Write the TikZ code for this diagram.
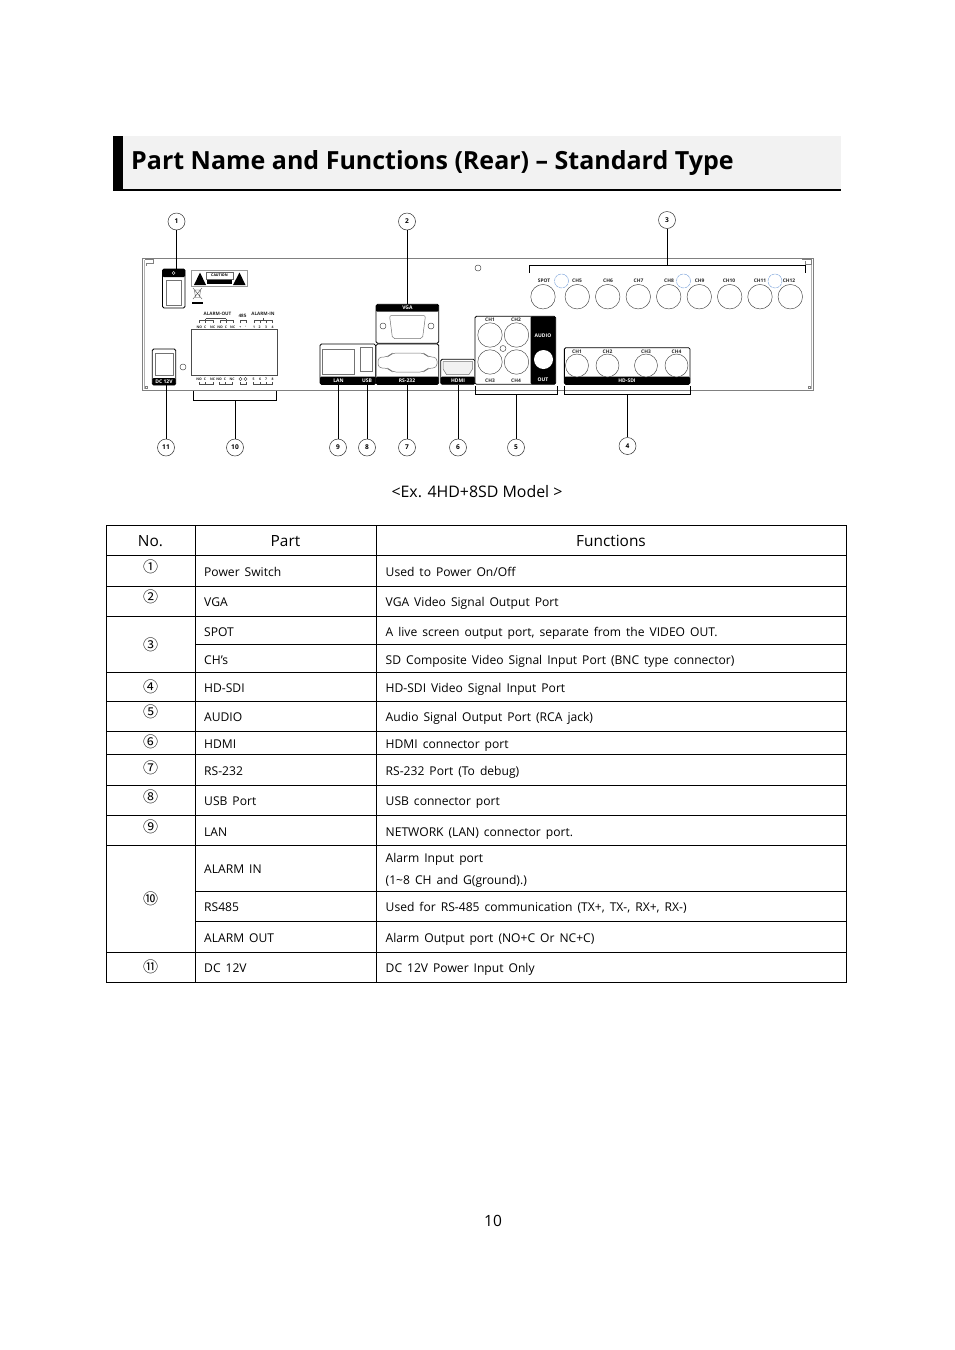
\documentclass[tikz,border=0pt]{standalone}
\usepackage{fontspec}
\setmainfont{Open Sans}
\newfontfamily\circfont{Noto Sans CJK KR}
\newcommand{\fs}[1]{\fontsize{#1}{#1}\selectfont}
\newcommand{\wsp}{\spaceskip=5pt\relax}
\tikzset{
  x=1pt,y=-1pt,
  callout/.style={circle,draw=black!80,line width=.5pt,minimum size=17pt,inner sep=0pt,fill=white,font=\fs{6.6}\bfseries},
  lead/.style={draw=black,line width=1pt},
  bracketline/.style={draw=black,line width=1pt},
  tiny/.style={inner sep=0pt,font=\fs{4.9}\bfseries,text=black!85},
  whitelabel/.style={inner sep=0pt,font=\fs{5}\bfseries,text=white},
  port/.style={circle,draw=black!75,line width=.45pt,fill=white,inner sep=0pt},
  bnc/.style={port,minimum size=24.5pt},
  hdbnc/.style={port,minimum width=23pt,minimum height=21pt},
  hole/.style={port,minimum size=6pt},
  blue/.style={circle,draw=cyan!50!blue!55,line width=.45pt,dashed,dash pattern=on 3pt off .8pt,minimum size=14pt,inner sep=0pt},
  block/.style={draw=black,line width=.8pt,rounded corners=1.5pt,inner sep=0pt,fill=white},
  strip/.style={fill=black,rounded corners=1.2pt},
  inner/.style={draw=black!55,line width=.5pt,fill=white},
  tbl/.style={draw=black,line width=.7pt},
  head/.style={inner sep=0pt,font=\fs{15.4},text=black},
  cell/.style={inner sep=0pt,anchor=base west,font=\fs{12.1},text=black},
  num/.style={inner sep=0pt,font=\circfont\fs{15},text=black},
  thinbr/.style={draw=black!70,line width=.35pt},
}
\begin{document}
\begin{tikzpicture}
\useasboundingbox (0,0) rectangle (954,1350);
\fill[white] (0,0) rectangle (954,1350);
% title
\fill[black!5] (113,136) rectangle (841,190);
\fill[black] (113,136) rectangle (123,190);
\draw[black,line width=1.4pt] (113,190) -- (841,190);
\node[inner sep=0pt,anchor=west,font=\fs{25}\bfseries] (title) at (131,163.5) {Part Name and Functions (Rear) – Standard Type};

% panel
\draw[black!50,line width=.6pt] (142.7,258.5) rectangle (813,390.5);
\draw[black!30,line width=.6pt] (144.5,260) -- (144.5,389);
\draw[black!30,line width=.6pt] (811,260) -- (811,389);
\draw[black!50,line width=.4pt] (145,259) -- (153,259) -- (153,263) -- (146,263) -- (146,266);
\draw[black!50,line width=.4pt] (802,259) -- (811,259) -- (811,264) -- (805,264) -- (805,261);
\draw[black!50,line width=.4pt] (145,386) rectangle (147.5,388.5);
\draw[black!50,line width=.4pt] (808,386) rectangle (810.5,388.5);

% power switch
\node[block,minimum width=22.5pt,minimum height=39pt] (sw) at (173.7,288.5) {};
\fill[strip] (162.5,269) rectangle (185,277);
\node[inner,minimum width=15.5pt,minimum height=25pt,inner sep=0pt] (swi) at (173.7,292.5) {};
\node[inner sep=0pt,circle,draw=white,line width=.4pt,minimum size=3pt] (swicon) at (173.7,273) {};

% caution label
\node[draw=black!40,line width=.5pt,minimum width=55.5pt,minimum height=15.5pt,inner sep=0pt] (caution) at (219,278) {};
\fill[black] (194,285) -- (200,272.5) -- (206,285) -- cycle;
\fill[black] (233,285) -- (239.5,272.5) -- (245.5,285) -- cycle;
\fill[black] (207,279) rectangle (232,284);
\node[inner sep=0pt,font=\fs{3.6}\bfseries] (cautiontxt) at (219.5,275.5) {CAUTION};
\draw[black!60,line width=.4pt] (206,272) rectangle (233,279);
% weee mark
\draw[black!70,line width=.4pt] (193,288) -- (202,299) (202,288) -- (193,299) (194.5,290) -- (200.5,290) -- (199.5,297.5) -- (195.5,297.5) -- cycle;
\fill[black] (192,302) rectangle (203,304);

% terminal block
\node[draw=black!70,line width=.6pt,fill=white,minimum width=85.5pt,minimum height=46pt,inner sep=0pt] (term) at (234.5,352) {};
\node[tiny,font=\fs{4.6}\bfseries] (aout) at (217.5,314) {ALARM-OUT};
\node[tiny,font=\fs{4.6}\bfseries] (r485) at (242.5,316) {485};
\node[tiny,font=\fs{4.6}\bfseries] (ain) at (263,314) {ALARM-IN};
\foreach \i/\x/\t in {1/199.3/NO,2/205.3/C,3/212.7/NC,4/220/NO,5/226/C,6/232.7/NC,7/240.3/+,8/245.7/-,9/254/1,10/259.7/2,11/266/3,12/272.7/4}
  \node[tiny,font=\fs{3.4}\bfseries] (tt\i) at (\x,327) {\t};
\foreach \i/\x/\t in {1/199/NO,2/205/C,3/212.5/NC,4/219/NO,5/225/C,6/232/NC,9/253.5/5,10/260/6,11/266/7,12/272.5/8}
  \node[tiny,font=\fs{3.4}\bfseries] (tb\i) at (\x,379) {\t};
\node[circle,draw=black!80,line width=.35pt,minimum size=3.2pt,inner sep=0pt] (gA) at (240.5,379) {};
\node[circle,draw=black!80,line width=.35pt,minimum size=3.2pt,inner sep=0pt] (gB) at (245.5,379) {};
\draw[thinbr] (199,323) -- (199,320.5) -- (213,320.5) -- (213,323) (205.5,323) -- (205.5,318.5);
\draw[thinbr] (220,323) -- (220,320.5) -- (233,320.5) -- (233,323) (226,323) -- (226,318.5);
\draw[thinbr] (205.5,318.5) -- (226,318.5);
\draw[thinbr] (240,323) -- (240,320.5) -- (246,320.5) -- (246,323);
\draw[thinbr] (254,323) -- (254,320.5) -- (272.5,320.5) -- (272.5,323) (260,323) -- (260,320.5) (266,323) -- (266,320.5) (263,320.5) -- (263,318);
\draw[thinbr] (199,382) -- (199,384.5) -- (213,384.5) -- (213,382) (205.5,382) -- (205.5,384.5);
\draw[thinbr] (219,382) -- (219,384.5) -- (232.5,384.5) -- (232.5,382) (225.5,382) -- (225.5,384.5);
\draw[thinbr] (240,382) -- (240,384.5) -- (246,384.5) -- (246,382);
\draw[thinbr] (253.5,382) -- (253.5,384.5) -- (272.5,384.5) -- (272.5,382) (260,382) -- (260,384.5) (266,382) -- (266,384.5);

% DC 12V
\node[block,minimum width=23.5pt,minimum height=36pt] (dc) at (164,367) {};
\fill[strip] (152.3,378) rectangle (175.7,385);
\node[inner,minimum width=18pt,minimum height=22pt,inner sep=0pt] (dci) at (164,364) {};
\node[whitelabel] (dclabel) at (164,381.6) {DC 12V};
\node[hole] (dchole) at (183,367) {};
\node[hole] (tophole) at (478,268) {};

% LAN / USB
\node[block,minimum width=55.7pt,minimum height=40.3pt] (lan) at (347.8,364.2) {};
\fill[strip] (320,376.7) rectangle (375.7,384.4);
\node[inner,minimum width=32pt,minimum height=25pt,inner sep=0pt] (lani) at (338,361.5) {};
\node[inner,minimum width=11.5pt,minimum height=24pt,inner sep=0pt] (usbi) at (366.3,359) {};
\node[whitelabel] (lanl) at (338.5,380.6) {LAN};
\node[whitelabel] (usbl) at (367,380.6) {USB};

% VGA
\node[block,minimum width=62.7pt,minimum height=39pt] (vga) at (407.4,323.8) {};
\fill[strip] (376,304.3) rectangle (438.7,311.7);
\node[whitelabel] (vgal) at (407.4,308) {VGA};
\draw[draw=black!55,line width=.5pt,rounded corners=2pt] (389.5,315.5) -- (425.5,315.5) -- (422.5,338.5) -- (392.5,338.5) -- cycle;
\node[hole] (vh1) at (383,326) {};
\node[hole] (vh2) at (431,326) {};

% RS-232
\node[block,minimum width=62.7pt,minimum height=40.3pt] (rs) at (407.4,364.2) {};
\fill[strip] (376,376.7) rectangle (438.7,384.4);
\node[whitelabel] (rsl) at (407,380.6) {RS-232};
\draw[draw=black!55,line width=.5pt,rounded corners=4pt] (378,357) -- (388,357) -- (392,353) -- (424,353) -- (428,357) -- (437,357) -- (437,368) -- (428,368) -- (424,372) -- (392,372) -- (388,368) -- (378,368) -- cycle;

% HDMI
\node[block,minimum width=34.3pt,minimum height=25pt] (hdmi) at (457.8,371.8) {};
\fill[strip] (440.7,376.7) rectangle (475,384.4);
\node[whitelabel] (hdmil) at (458,380.6) {HDMI};
\draw[draw=black!55,line width=.5pt,fill=black!5] (443,361.5) -- (472.5,361.5) -- (472.5,369) -- (469,374.5) -- (446.5,374.5) -- (443,369) -- cycle;

% audio block
\node[block,minimum width=80.7pt,minimum height=68pt] (audio) at (515.3,350.3) {};
\fill[strip] (530.7,316.3) rectangle (555.7,384.3);
\foreach \n/\x/\y/\lx/\ly/\t in {a1/490/335/490/320/CH1,a2/516.5/335/516/320/CH2,a3/490/362/490/380.5/CH3,a4/516.5/362/516/380.5/CH4}{
  \node[bnc] (\n) at (\x,\y) {};
  \node[tiny] (\n l) at (\lx,\ly) {\t};
}
\node[hole] (ahole) at (503,348.5) {};
\node[circle,fill=white,minimum size=19pt,inner sep=0pt] (aout2) at (543.5,359.5) {};
\node[whitelabel] (audiol) at (543,336) {AUDIO};
\node[whitelabel] (outl) at (543,379.7) {OUT};

% top BNC row
\foreach \n/\x/\lx/\t in {s0/543/544/SPOT,s5/577.3/577/CH5,s6/607.7/608/CH6,s7/638.3/638.5/CH7,s8/668.7/669/CH8,s9/699.3/699.7/CH9,s10/729.7/729/CH10,s11/760/760/CH11,s12/790.3/789/CH12}{
  \node[bnc,fill=none] (\n) at (\x,296.7) {};
  \node[tiny] (\n l) at (\lx,281) {\t};
}
\node[blue] (b1) at (561.5,281) {};
\node[blue] (b2) at (683.5,281) {};
\node[blue] (b3) at (775,281) {};

% HD-SDI
\node[block,minimum width=125.7pt,minimum height=36.7pt] (sdi) at (627.2,366) {};
\fill[strip] (564.3,376.7) rectangle (690,384.4);
\foreach \n/\x/\t in {h1/577/CH1,h2/607.5/CH2,h3/646/CH3,h4/676.5/CH4}{
  \node[hdbnc] (\n) at (\x,365.5) {};
  \node[tiny] (\n l) at (\x,352) {\t};
}
\node[whitelabel] (sdil) at (627,380.8) {HD-SDI};

% brackets
\coordinate (br3) at (667,265);
\coordinate (br4) at (627.5,394);
\coordinate (br5) at (516,394);
\coordinate (br10) at (235,400);
\draw[bracketline] (529,273) -- (529,265) -- (805,265) -- (805,273);
\draw[bracketline] (564.5,386) -- (564.5,394) -- (690.5,394) -- (690.5,386);
\draw[bracketline] (475,386) -- (475,394) -- (557,394) -- (557,386);
\draw[bracketline] (193,391) -- (193,400) -- (276.5,400) -- (276.5,391);

% callouts
\node[callout] (c1) at (176.5,221.5) {1};
\node[callout] (c2) at (407,221.5) {2};
\node[callout] (c3) at (667,220) {3};
\node[callout] (c4) at (627.5,446) {4};
\node[callout] (c5) at (516,447.5) {5};
\node[callout] (c6) at (458,447.5) {6};
\node[callout] (c7) at (407,447.5) {7};
\node[callout] (c8) at (367,447.5) {8};
\node[callout] (c9) at (338,447.5) {9};
\node[callout] (c10) at (235,447.5) {10};
\node[callout] (c11) at (166,447.5) {11};
\draw[lead] (c1) -- (c1 |- sw.north);
\draw[lead] (c2) -- (c2 |- vga.north);
\draw[lead] (c3) -- (br3);
\draw[lead] (c4) -- (br4);
\draw[lead] (c5) -- (br5);
\draw[lead] (c6) -- (c6 |- hdmi.south);
\draw[lead] (c7) -- (c7 |- rs.south);
\draw[lead] (c8) -- (c8 |- lan.south);
\draw[lead] (c9) -- (c9 |- lan.south);
\draw[lead] (c10) -- (br10);
\draw[lead] (c11) -- (c11 |- dc.south);

\node[inner sep=0pt,font=\fs{15.9}] (cap) at (477,492) {<Ex. 4HD+8SD Model >};

% table
\draw[tbl] (106.5,525.5) rectangle (846.5,982.5);
\draw[tbl] (195.5,525.5) -- (195.5,982.5) (376.5,525.5) -- (376.5,982.5);
\foreach \y in {555.5,586.5,616.5,672.5,701.5,731.5,754.5,785.5,815.5,845.5,952.5}
  \draw[tbl] (106.5,\y) -- (846.5,\y);
\foreach \y in {644.5,891.5,921.5}
  \draw[tbl] (195.5,\y) -- (846.5,\y);
\node[head] (hno) at (150.5,541) {No.};
\node[head] (hpart) at (285.5,541) {Part};
\node[head] (hfun) at (611,541) {Functions};
\foreach \i/\y/\t in {1/567/①,2/597/②,3/645/③,4/687/④,5/712/⑤,6/742/⑥,7/768/⑦,8/797/⑧,9/827/⑨,10/899/⑩,11/967/⑪}
  \node[num] (n\i) at (150.5,\y) {\t};
\foreach \i/\yy/\partname/\funcname in {
 1/576/Power Switch/{Used to Power On/Off},
 2/606/VGA/VGA Video Signal Output Port,
 3/636/SPOT/{A live screen output port, separate from the VIDEO OUT.},
 4/664/CH’s/SD Composite Video Signal Input Port (BNC type connector),
 5/692/HD-SDI/HD-SDI Video Signal Input Port,
 6/721/AUDIO/Audio Signal Output Port (RCA jack),
 7/748/HDMI/HDMI connector port,
 8/775/RS-232/RS-232 Port (To debug),
 9/805/USB Port/USB connector port,
 10/836/LAN/NETWORK (LAN) connector port.,
 12/911/RS485/{Used for RS-485 communication (TX+, TX-, RX+, RX-)},
 13/942/ALARM OUT/Alarm Output port (NO+C Or NC+C),
 14/972/DC 12V/DC 12V Power Input Only}{
  \node[cell] (p\i) at (204,\yy) {\wsp\partname};
  \node[cell] (f\i) at (385.5,\yy) {\wsp\funcname};
}
\node[cell] (p11) at (204,873) {\wsp ALARM IN};
\node[cell] (f11a) at (385.5,862) {\wsp Alarm Input port};
\node[cell] (f11b) at (385.5,884) {\wsp (1\textasciitilde 8 CH and G(ground).)};

\node[inner sep=0pt,font=\fs{15.5}] (page) at (493,1221) {10};
\end{tikzpicture}
\end{document}
